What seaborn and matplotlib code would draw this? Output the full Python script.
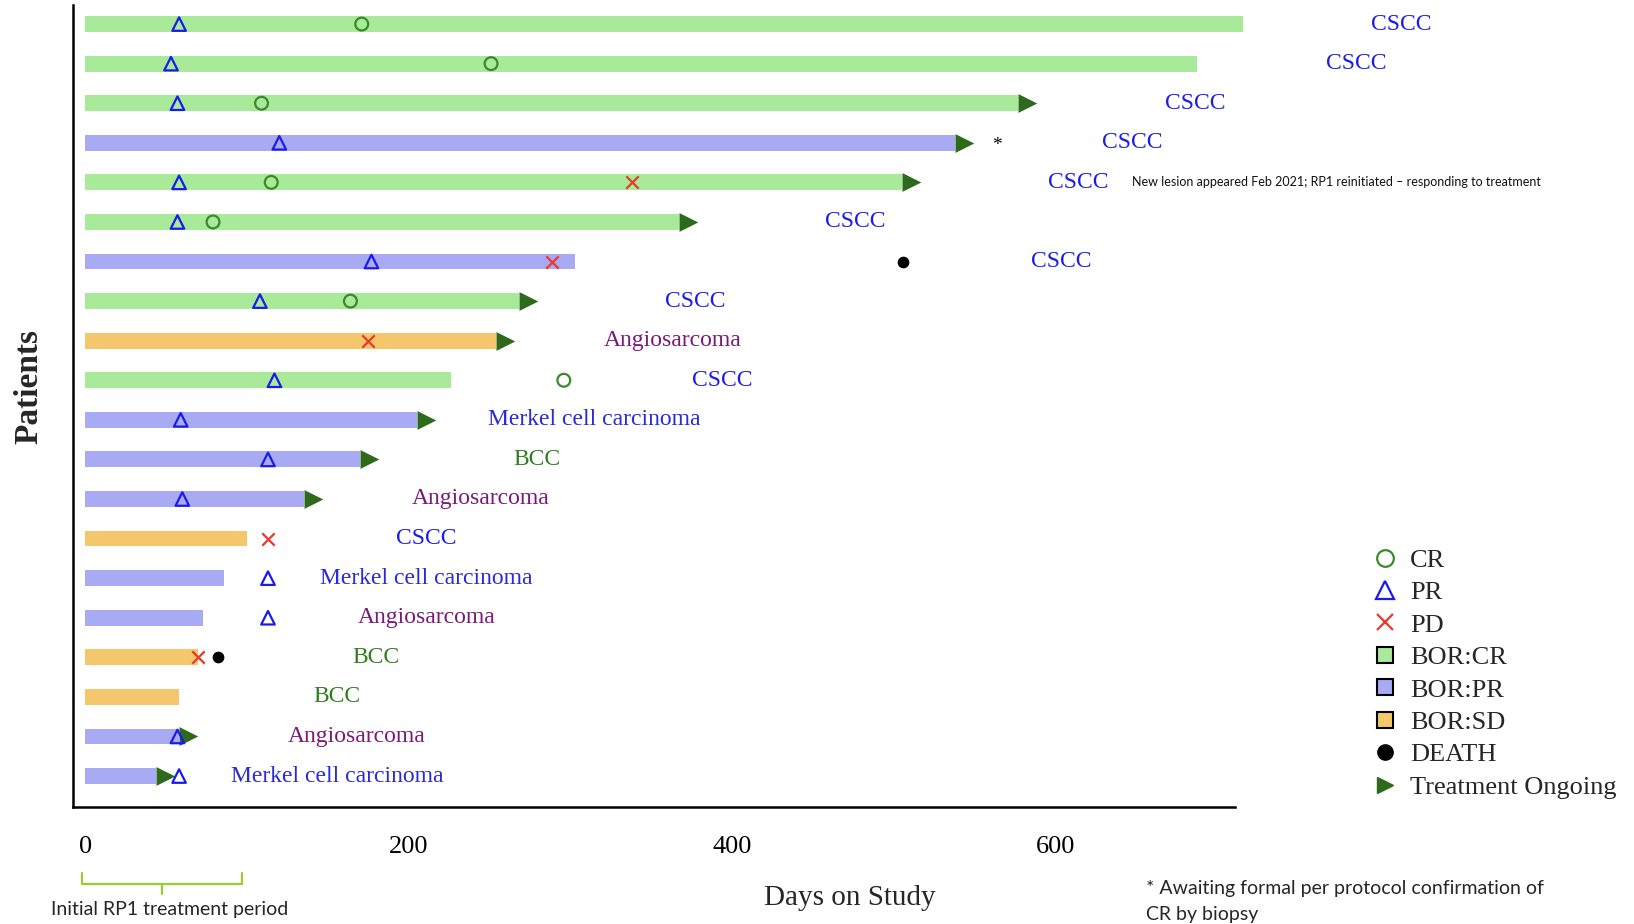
import numpy as np
import pandas as pd
import matplotlib
matplotlib.use("Agg")
import matplotlib.pyplot as plt
import matplotlib.transforms as mtransforms
from matplotlib.path import Path
from matplotlib.lines import Line2D
import seaborn as sns

# ---------------- data ----------------
patients = [f"Pt{i:02d}" for i in range(1, 21)]
days_on_study = [716, 688, 577, 538, 505, 367, 303, 268, 254, 226,
                 205, 170, 135, 100, 86, 73, 70, 58, 58, 44]
best_response = ["CR", "CR", "CR", "PR", "CR", "CR", "PR", "CR", "SD", "CR",
                 "PR", "PR", "PR", "SD", "PR", "PR", "SD", "SD", "PR", "PR"]
tumour_type = ["CSCC", "CSCC", "CSCC", "CSCC", "CSCC", "CSCC", "CSCC", "CSCC",
               "Angiosarcoma", "CSCC", "Merkel cell carcinoma", "BCC",
               "Angiosarcoma", "CSCC", "Merkel cell carcinoma", "Angiosarcoma",
               "BCC", "BCC", "Angiosarcoma", "Merkel cell carcinoma"]
ongoing = [False, False, True, True, True, True, False, True, True, False,
           True, True, True, False, False, False, False, False, True, True]

pr_patient = ["Pt01", "Pt02", "Pt03", "Pt04", "Pt05", "Pt06", "Pt07", "Pt08",
              "Pt10", "Pt11", "Pt12", "Pt13", "Pt15", "Pt16", "Pt19", "Pt20"]
pr_day = [58, 53, 57, 120, 58, 57, 177, 108, 117, 59, 113, 60, 113, 113, 57, 58]
cr_patient = ["Pt01", "Pt02", "Pt03", "Pt05", "Pt06", "Pt08", "Pt10"]
cr_day = [171, 251, 109, 115, 79, 164, 296]
pd_patient = ["Pt05", "Pt07", "Pt09", "Pt14", "Pt17"]
pd_day = [338, 289, 175, 113, 70]
death_patient = ["Pt07", "Pt17"]
death_day = [506, 82]
awaiting_patient = ["Pt04"]
note_patient = "Pt05"
note_text = "New lesion appeared Feb 2021; RP1 reinitiated \u2013 responding to treatment"
x_ticks = [0, 200, 400, 600]

# ---------------- style ----------------
sns.set_style("white")
plt.rcParams["font.family"] = ["Liberation Serif", "DejaVu Serif"]

bor_palette = {"CR": "#a8e99a", "PR": "#a8aaf4", "SD": "#f5c76c"}
tumour_colors = {"CSCC": "#1c1ce8", "Merkel cell carcinoma": "#2a2ad8",
                 "Angiosarcoma": "#7a1a78", "BCC": "#2f7d1f"}
cr_color = "#3a8a2a"
pr_color = "#1a1aee"
pd_color = "#ea3a2a"
arrow_color = "#2d6a1c"
sans = ["Lato", "DejaVu Sans"]

fig = plt.figure(figsize=(16.34, 9.24), dpi=100)
ax = fig.add_axes([0.0446, 0.1263, 0.711, 0.868])

df = pd.DataFrame({"patient": patients, "days": days_on_study, "bor": best_response})
sns.barplot(data=df, x="days", y="patient", hue="bor", palette=bor_palette,
            order=patients, dodge=False, width=0.4, saturation=1, legend=False,
            errorbar=None, orient="h", linewidth=0, ax=ax)
for p in ax.patches:
    p.set_clip_on(False)

row = {p: i for i, p in enumerate(patients)}

# ongoing arrows: triangle whose left edge sits at the bar end
arrow_path = Path([(0, -1), (2, 0), (0, 1), (0, -1)],
                  [Path.MOVETO, Path.LINETO, Path.LINETO, Path.CLOSEPOLY])
arr_x = [d for d, o in zip(days_on_study, ongoing) if o]
arr_y = [i for i, o in enumerate(ongoing) if o]
ax.scatter(arr_x, arr_y, marker=arrow_path, s=27 ** 2, color=arrow_color,
           linewidths=0, zorder=4, clip_on=False)

sns.scatterplot(x=pr_day, y=[row[p] for p in pr_patient], marker="^", s=95,
                ax=ax, zorder=5, legend=False)
ax.collections[-1].set_facecolor("none")
ax.collections[-1].set_edgecolor(pr_color)
ax.collections[-1].set_linewidth(1.6)
sns.scatterplot(x=cr_day, y=[row[p] for p in cr_patient], marker="o", s=85,
                ax=ax, zorder=5, legend=False)
ax.collections[-1].set_facecolor("none")
ax.collections[-1].set_edgecolor(cr_color)
ax.collections[-1].set_linewidth(1.6)
ax.scatter(pd_day, [row[p] for p in pd_patient], marker="x", s=80,
           color=pd_color, linewidths=1.6, zorder=5)
ax.scatter(death_day, [row[p] for p in death_patient], marker="o", s=55,
           color="black", zorder=5, clip_on=False)

# tumour labels, centred a fixed distance beyond the last mark of each row
for i, p in enumerate(patients):
    last = days_on_study[i]
    for plist, dlist in ((pr_patient, pr_day), (cr_patient, cr_day),
                         (pd_patient, pd_day), (death_patient, death_day)):
        for pp, dd in zip(plist, dlist):
            if pp == p:
                last = max(last, dd)
    extra = 13.5 if (ongoing[i] and last == days_on_study[i]) else 0
    ax.annotate(tumour_type[i], xy=(last, i), xytext=(extra + 114, 0),
                textcoords="offset points", ha="center", va="center",
                fontsize=17, color=tumour_colors[tumour_type[i]],
                annotation_clip=False)
    if p in awaiting_patient:
        ax.annotate("*", xy=(days_on_study[i], i), xytext=(30, -2),
                    textcoords="offset points", ha="center", va="center",
                    fontsize=14, color="black", annotation_clip=False)
    if p == note_patient:
        ax.annotate(note_text, xy=(last, i), xytext=(extra + 114 + 38, 0),
                    textcoords="offset points", ha="left", va="center",
                    fontsize=9.0, family=sans, color="#111111",
                    annotation_clip=False)

ax.set_xlim(-7.7, 711)
ax.set_ylim(len(patients) - 0.21, -0.475)
ax.set_yticks([])
ax.set_xticks(x_ticks)
ax.set_xticklabels([str(t) for t in x_ticks])
ax.tick_params(axis="x", direction="out", length=9, width=1.4, pad=12,
               labelsize=19, colors="black")
ax.set_xlabel("")
ax.set_ylabel("")
sns.despine(ax=ax, top=True, right=True)
for s in ("left", "bottom"):
    ax.spines[s].set_linewidth(1.8)
    ax.spines[s].set_color("black")

fig.text(0.018, 0.582, "Patients", rotation=90, ha="center", va="center",
         fontsize=24, fontweight="bold")
fig.text(0.52, 0.028, "Days on Study", ha="center", va="center", fontsize=21)

# bracket for initial treatment period
trans = mtransforms.blended_transform_factory(ax.transData, fig.transFigure)
bx0, bx1 = -2, 97
ax.plot([bx0, bx0, bx1, bx1], [0.0552, 0.0433, 0.0433, 0.0552], color="#9acd32",
        lw=1.6, transform=trans, clip_on=False)
ax.plot([(bx0 + bx1) / 2] * 2, [0.0433, 0.0325], color="#9acd32", lw=1.6,
        transform=trans, clip_on=False)
fig.text(0.1036, 0.0152, "Initial RP1 treatment period", ha="center",
         va="center", fontsize=14, family=sans)

fig.text(0.7015, 0.0380, "* Awaiting formal per protocol confirmation of",
         ha="left", va="center", fontsize=14, family=sans)
fig.text(0.7015, 0.0100, "CR by biopsy", ha="left", va="center", fontsize=14,
         family=sans)

handles = [
    Line2D([], [], ls="none", marker="o", ms=12, mfc="none", mec=cr_color, mew=1.6),
    Line2D([], [], ls="none", marker="^", ms=13, mfc="none", mec=pr_color, mew=1.6),
    Line2D([], [], ls="none", marker="x", ms=12, mec=pd_color, mew=1.6),
    Line2D([], [], ls="none", marker="s", ms=12, mfc=bor_palette["CR"], mec="black", mew=1.5),
    Line2D([], [], ls="none", marker="s", ms=12, mfc=bor_palette["PR"], mec="black", mew=1.5),
    Line2D([], [], ls="none", marker="s", ms=12, mfc=bor_palette["SD"], mec="black", mew=1.5),
    Line2D([], [], ls="none", marker="o", ms=11, mfc="black", mec="black"),
    Line2D([], [], ls="none", marker=">", ms=12, mfc=arrow_color, mec=arrow_color),
]
labels = ["CR", "PR", "PD", "BOR:CR", "BOR:PR", "BOR:SD", "DEATH", "Treatment Ongoing"]
fig.legend(handles, labels, loc="upper left", bbox_to_anchor=(0.8397, 0.4066),
           frameon=False, fontsize=19, handlelength=1.0, handletextpad=0.45,
           labelspacing=0.34, borderpad=0, borderaxespad=0)

fig.savefig("out.png", dpi=100)
